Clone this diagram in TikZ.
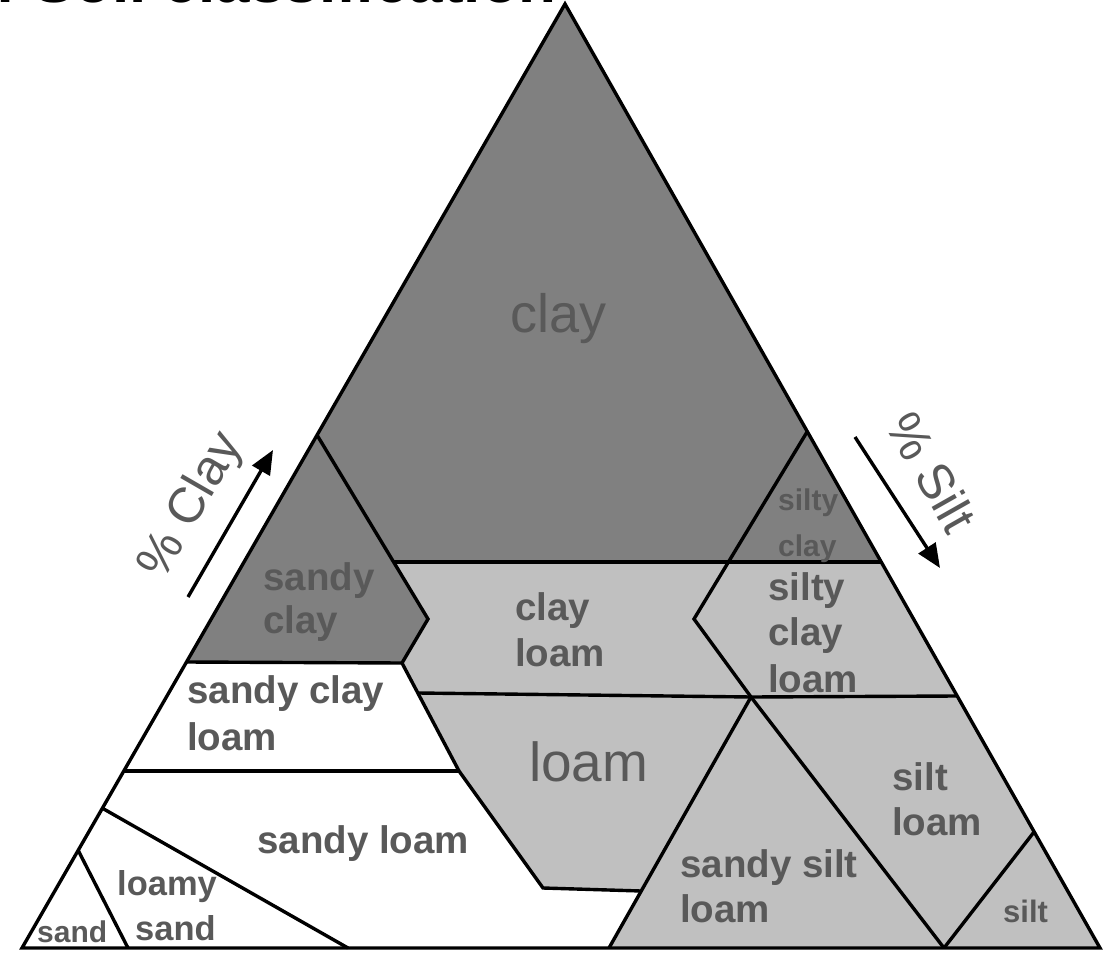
\documentclass[tikz,border=0pt]{standalone}
\usepackage{fontspec}
\setmainfont{Liberation Sans}
\usetikzlibrary{arrows.meta}
\definecolor{darkfill}{RGB}{128,128,128}
\definecolor{lightfill}{RGB}{192,192,192}
\definecolor{labelgray}{RGB}{89,89,89}
\begin{document}
\begin{tikzpicture}[x=1pt,y=-1pt,
  border/.style={line width=3.4pt, line join=miter},
  lbl/.style={font=\bfseries\fontsize{38.5}{46}\selectfont, text=labelgray, inner sep=0pt, anchor=base west},
  smalllbl/.style={font=\bfseries\fontsize{30}{36}\selectfont, text=labelgray, inner sep=0pt, anchor=base west},
  biglbl/.style={font=\fontsize{55}{60}\selectfont, text=labelgray, inner sep=0pt, anchor=base west},
  axislbl/.style={font=\fontsize{50}{54}\selectfont, text=labelgray, inner sep=0pt},
  axisarrow/.style={line width=3.4pt, -{Triangle[length=24pt,width=20pt]}}]
\useasboundingbox (0,0) rectangle (1104,955);
% title (cut off at the top)
\begin{scope}
  \clip (0,0) rectangle (1104,955);
  \node[anchor=base east, inner sep=0pt, font=\bfseries\fontsize{62}{62}\selectfont] (title) at (557,3) {of Soil classification};
\end{scope}
% outer corners
\coordinate (T) at (565,4);
\coordinate (L) at (22,948);
\coordinate (R) at (1100,948);
% left edge
\coordinate (a1) at (317,435);
\coordinate (a2) at (186,662);
\coordinate (a3) at (124,771);
\coordinate (a4) at (102,808);
\coordinate (a5) at (78,850);
% right edge
\coordinate (b1) at (807,432);
\coordinate (b2) at (881,562);
\coordinate (b3) at (957,696);
\coordinate (b4) at (1034,832);
% interior
\coordinate (c1) at (394,562);
\coordinate (c2) at (428,619);
\coordinate (c3) at (402,663);
\coordinate (c4) at (418,693);
\coordinate (c5) at (459,771);
\coordinate (c6) at (543,888);
\coordinate (c7) at (641,891);
\coordinate (c8) at (609,948);
\coordinate (c9) at (751,697);
\coordinate (c10) at (944,948);
\coordinate (c11) at (728,562);
\coordinate (c12) at (694,619);
\coordinate (c13) at (348,948);
\coordinate (c14) at (128,948);
% fills
\fill[darkfill] (T) -- (b1) -- (c11) -- (c1) -- (a1) -- cycle;
\fill[darkfill] (b1) -- (b2) -- (c11) -- cycle;
\fill[darkfill] (a1) -- (c1) -- (c2) -- (c3) -- (a2) -- cycle;
\fill[lightfill] (c1) -- (c11) -- (c12) -- (c9) -- (c4) -- (c3) -- (c2) -- cycle;
\fill[lightfill] (c11) -- (b2) -- (b3) -- (c9) -- (c12) -- cycle;
\fill[lightfill] (c4) -- (c9) -- (c7) -- (c6) -- (c5) -- cycle;
\fill[lightfill] (c9) -- (b3) -- (b4) -- (c10) -- cycle;
\fill[lightfill] (c9) -- (c10) -- (c8) -- cycle;
\fill[lightfill] (b4) -- (R) -- (c10) -- cycle;
\fill[white] (a2) -- (c3) -- (c4) -- (c5) -- (a3) -- cycle;
% boundaries
\draw[border] (a1) -- (c2) -- (c3) -- (c5) -- (c6) -- (c7);
\draw[border] (c1) -- (b2);
\draw[border] (b1) -- (c12) -- (c9) -- (c10);
\draw[border] (a2) -- (c3);
\draw[border] (c4) -- (c9) -- (b3);
\draw[border] (a3) -- (c5);
\draw[border] (c8) -- (c9);
\draw[border] (b4) -- (c10);
\draw[border] (a4) -- (c13);
\draw[border] (a5) -- (c14);
\draw[border] (T) -- (R) -- (L) -- cycle;
% labels
\node[biglbl, font=\fontsize{54}{60}\selectfont] (clay) at (510,332) {clay};
\node[lbl] (sc1) at (263,590) {sandy};
\node[lbl] (sc2) at (263,633) {clay};
\node[smalllbl] (sic1) at (778,510) {silty};
\node[smalllbl] (sic2) at (778,556) {clay};
\node[lbl] (cl1) at (515,620) {clay};
\node[lbl] (cl2) at (515,666) {loam};
\node[lbl] (sicl1) at (768,600) {silty};
\node[lbl] (sicl2) at (768,645) {clay};
\node[lbl] (sicl3) at (768,692) {loam};
\node[lbl] (scl1) at (187,703) {sandy clay};
\node[lbl] (scl2) at (187,750) {loam};
\node[biglbl] (loam) at (529,781) {loam};
\node[lbl] (sl) at (257,853) {sandy loam};
\node[lbl, font=\bfseries\fontsize{34.5}{40}\selectfont] (ls1) at (117,895) {loamy};
\node[lbl, font=\bfseries\fontsize{34.5}{40}\selectfont] (ls2) at (135,940) {sand};
\node[lbl, font=\bfseries\fontsize{30}{36}\selectfont] (sand) at (37,942) {sand};
\node[lbl] (ssl1) at (680,877) {sandy silt};
\node[lbl] (ssl2) at (680,922) {loam};
\node[lbl] (sil1) at (892,790) {silt};
\node[lbl] (sil2) at (892,835) {loam};
\node[lbl, font=\bfseries\fontsize{31}{36}\selectfont] (silt) at (1003,922) {silt};
% axis arrows
\coordinate (clayA) at (188,597);
\coordinate (clayB) at (273,450);
\coordinate (siltA) at (855,437);
\coordinate (siltB) at (940,568);
\draw[axisarrow] (clayA) -- (clayB);
\draw[axisarrow] (siltA) -- (siltB);
\node[axislbl, rotate=60] (pclay) at (192,506) {\% Clay};
\node[axislbl, rotate=-60.5] (psilt) at (932,472) {\% Silt};
\end{tikzpicture}
\end{document}
